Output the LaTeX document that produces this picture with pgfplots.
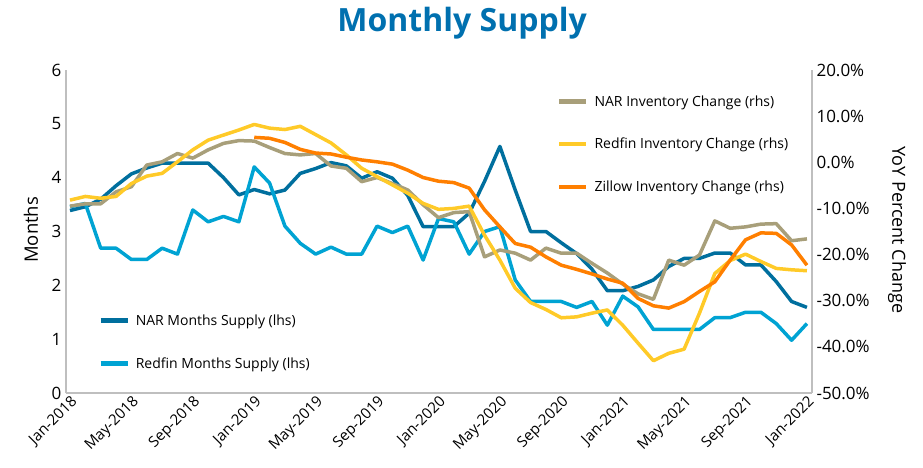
\documentclass[border=0pt]{standalone}
\usepackage{pgfplots}
\pgfplotsset{compat=1.18}
\usepackage{pgfplotstable}
\usepackage{fontspec}
\setmainfont{Open Sans}
\definecolor{narm}{RGB}{0,111,158}
\definecolor{rfm}{RGB}{0,163,211}
\definecolor{nari}{RGB}{168,159,122}
\definecolor{rfi}{RGB}{255,202,40}
\definecolor{zil}{RGB}{255,127,0}
\definecolor{ttl}{RGB}{0,112,175}
\definecolor{axgray}{RGB}{191,191,191}

\pgfplotstableread{
i narm rfm nari rfi
0 3.39 3.46 -9.5 -8.2
1 3.46 3.52 -9.0 -7.4
2 3.60 2.69 -9.0 -7.8
3 3.85 2.69 -6.4 -7.4
4 4.07 2.48 -5.3 -4.6
5 4.18 2.48 -0.6 -3.0
6 4.27 2.69 0.1 -2.4
7 4.27 2.58 1.9 0.1
8 4.27 3.40 0.9 2.7
9 4.27 3.18 2.7 4.8
10 4.00 3.28 4.1 5.9
11 3.68 3.18 4.7 7.0
12 3.78 4.20 4.6 8.2
13 3.70 3.90 3.2 7.4
14 3.77 3.10 1.9 7.1
15 4.08 2.78 1.6 7.8
16 4.17 2.58 1.9 6.0
17 4.28 2.71 -0.8 4.2
18 4.22 2.58 -1.3 1.6
19 3.99 2.58 -4.2 -1.3
20 4.11 3.10 -3.3 -3.1
21 3.99 2.98 -4.6 -4.9
22 3.67 3.10 -6.0 -6.7
23 3.09 2.47 -9.2 -8.9
24 3.09 3.24 -12.0 -10.2
25 3.09 3.18 -10.9 -10.0
26 3.34 2.58 -10.7 -9.5
27 3.93 3.00 -20.5 -15.8
28 4.58 3.09 -19.0 -21.2
29 3.77 2.10 -19.7 -27.3
30 3.00 1.70 -21.2 -30.4
31 3.00 1.70 -18.6 -31.9
32 2.79 1.70 -19.7 -33.7
33 2.59 1.59 -19.7 -33.5
34 2.30 1.70 -21.9 -32.7
35 1.90 1.26 -24.0 -32.0
36 1.90 1.80 -26.4 -35.3
37 1.98 1.60 -28.5 -39.2
38 2.10 1.18 -29.7 -43.0
39 2.35 1.18 -21.2 -41.4
40 2.50 1.18 -22.3 -40.5
41 2.50 1.18 -20.1 -32.7
42 2.60 1.40 -12.7 -24.1
43 2.60 1.40 -14.3 -21.3
44 2.38 1.50 -14.0 -19.9
45 2.38 1.50 -13.4 -21.5
46 2.07 1.29 -13.3 -23.0
47 1.70 0.98 -17.0 -23.3
48 1.59 1.29 -16.6 -23.5
}\maindata

\pgfplotstableread{
i zil
12 5.4
13 5.2
14 4.3
15 2.8
16 2.0
17 1.8
18 1.1
19 0.5
20 0.1
21 -0.4
22 -1.7
23 -3.3
24 -4.1
25 -4.4
26 -5.6
27 -10.3
28 -14.0
29 -17.6
30 -18.4
31 -20.5
32 -22.3
33 -23.2
34 -24.2
35 -25.3
36 -26.2
37 -29.5
38 -31.1
39 -31.6
40 -30.2
41 -28.0
42 -25.9
43 -21.2
44 -16.8
45 -15.3
46 -15.4
47 -17.9
48 -22.3
}\zildata

\pgfplotsset{
  common/.style={
    width=746pt, height=323pt, scale only axis,
    at={(0pt,0pt)}, anchor=south west,
    xmin=-0.26, xmax=48.33,
    major tick length=0pt,
    axis line style={axgray, line width=2pt},
    /pgf/number format/assume math mode=true,
    tick label style={font=\fontsize{17}{19}\selectfont},
    legend cell align=left,
    legend image code/.code={\draw[line width=4.5pt] (0pt,0pt) -- (27pt,0pt);},
  },
}

\begin{document}
\begin{tikzpicture}
\begin{axis}[common,
  axis x line*=bottom, axis y line*=left,
  ymin=0, ymax=6, ytick={0,1,...,6},
  yticklabel style={xshift=-1pt},
  xtick={0,4,...,48},
  xticklabels={Jan-2018,May-2018,Sep-2018,Jan-2019,May-2019,Sep-2019,Jan-2020,May-2020,Sep-2020,Jan-2021,May-2021,Sep-2021,Jan-2022},
  xticklabel style={rotate=45, anchor=north east, font=\fontsize{15}{16}\selectfont, inner sep=1pt},
  ylabel={Months},
  ylabel style={at={(axis description cs:-0.047,0.505)}, anchor=center, font=\fontsize{18.5}{21}\selectfont},
  legend style={draw=none, fill=none, at={(axis description cs:0.043,0.25)}, anchor=north west,
    font=\fontsize{14}{16}\selectfont, row sep=27pt, inner sep=0pt,
    nodes={inner xsep=6pt}},
]
\addplot[narm, line width=3.5pt, line join=round] table[x=i, y=narm] {\maindata};
\addlegendentry{NAR Months Supply (lhs)}
\addplot[rfm, line width=3.5pt, line join=round] table[x=i, y=rfm] {\maindata};
\addlegendentry{Redfin Months Supply (lhs)}
\end{axis}
\begin{axis}[common,
  axis x line=none, axis y line*=right,
  ymin=-50, ymax=20, ytick={-50,-40,...,20},
  yticklabel={\pgfmathprintnumber[fixed,fixed zerofill,precision=1]{\tick}\%},
  yticklabel style={xshift=1pt},
  ylabel={YoY Percent Change},
  ylabel style={at={(axis description cs:1.114,0.505)}, anchor=center, rotate=180, font=\fontsize{18}{21}\selectfont},
  legend style={draw=none, fill=none, at={(axis description cs:0.658,0.928)}, anchor=north west,
    font=\fontsize{14}{16}\selectfont, row sep=26.5pt, inner sep=0pt,
    nodes={inner xsep=6pt}},
  title={Monthly Supply},
  title style={at={(axis description cs:0.531,1.102)}, anchor=base, font=\fontsize{32}{36}\selectfont\bfseries, text=ttl},
]
\addplot[nari, line width=3.5pt, line join=round] table[x=i, y=nari] {\maindata};
\addlegendentry{NAR Inventory Change (rhs)}
\addplot[rfi, line width=3.5pt, line join=round] table[x=i, y=rfi] {\maindata};
\addlegendentry{Redfin Inventory Change (rhs)}
\addplot[zil, line width=3.5pt, line join=round] table[x=i, y=zil] {\zildata};
\addlegendentry{Zillow Inventory Change (rhs)}
\end{axis}
\pgfresetboundingbox
\path[use as bounding box] (-66pt,-74pt) rectangle (857pt,393pt);
\end{tikzpicture}
\end{document}
